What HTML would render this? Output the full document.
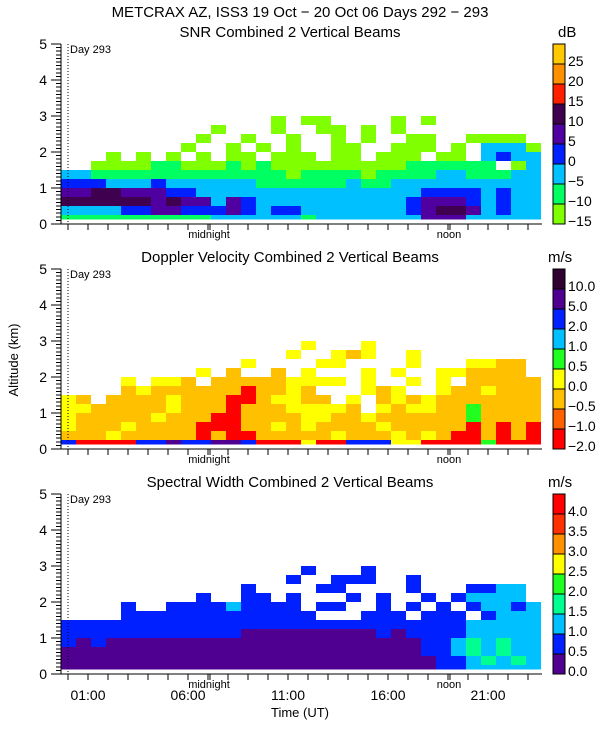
<!DOCTYPE html>
<html><head><meta charset="utf-8">
<style>
html,body{margin:0;padding:0;background:#fff;}
svg{display:block;font-family:"Liberation Sans",sans-serif;}
</style></head>
<body>
<svg id="chart" width="600" height="750" viewBox="0 0 600 750" xmlns="http://www.w3.org/2000/svg">
<text x="300" y="17" font-size="15" text-anchor="middle">METCRAX AZ, ISS3  19 Oct − 20 Oct 06 Days 292 − 293</text>
<text transform="translate(18,360) rotate(-90)" font-size="13" text-anchor="middle">Altitude (km)</text>
<text x="300" y="717" font-size="13" text-anchor="middle">Time (UT)</text>
<g id="panels"></g>
</svg>
<script>
// ---- data (color-class index per time column, rows of 0.25 km from ground) ----
const snrRows = [
"11111111112222221222222244422222",
"22223344333432332222222345542322",
"55555545442432222222222344432322",
"44554443322222222222222233332322",
"33322232222221111112112222222222",
"22111111111111101111011112211122",
"..000011000101000000000111111.02",
"...0.0.0.0.00.000.00.000.00.2322",
"........0..0.0.0..00..000.0.2220",
".........0..0..0..0.0..00..0000.",
"..........0...0..00.0.0.........",
"..............0.00....0.0......."
];
const dopRows = [
"28888221221128885882225588884888",
"66656666686886666656665656886868",
"56665666688866565666656666686868",
"56666656668866665566566666646666",
"55666665666866655556.56556646666",
"56.666656668865566.5.65656666666",
"....6566666686656...565..5665666",
"....5.556.666665555.5..5.5.66666",
".........5.6..6.5...5.5..556666.",
"............5....55....5...5566.",
"...............5..565..5........",
"................5...5..........."
];
const swRows = [
"00000000000000000000000001122222",
"00000000000000000000000001123232",
"00000000000000000000000011232322",
"10100000000000000000000011232322",
"11111111111100000000010111122222",
"11111111111111111111111111122222",
"....1111111111111...111.111.1222",
"....1..111121111.11..1.1.1.12212",
".........1..11.1...1.1..1.12222.",
"............1....11....1...1122.",
"...............1..111..1........",
"................1...1..........."
];
const snrLabels = ["25","20","15","10","5","0","−5","−10","−15"];
const dopLabels = ["10.0","5.0","2.0","1.0","0.5","0.0","−0.5","−1.0","−2.0"];
const swLabels = ["4.0","3.5","3.0","2.5","2.0","1.5","1.0","0.5","0.0"];
const hourTickLabels = ["01:00","06:00","11:00","16:00","21:00"];
const hourTickValues = [1,6,11,16,21];
const altTicks = [0,1,2,3,4,5];

// ---- styles ----
const snrColors = ["#80ff00","#00ff60","#00c0ff","#0020ff","#5000a0","#400050","#ff2000","#ff9000","#ffc800"];
const dopColors = ["#300030","#500090","#0020ff","#00c0ff","#20ff20","#ffff00","#ffc000","#ff6000","#ff0000"];
const swColors  = ["#500090","#0020ff","#00c0ff","#00ff90","#20ff20","#ffff00","#ff9000","#ff3000","#ff0000"];

const NS = "http://www.w3.org/2000/svg";
const X0 = 61, X1 = 541, T0 = -0.35, PXH = 20;
const colHours = 0.75, rowKm = 0.25, dataBottomKm = 0.12;
function xScale(t){ return X0 + (t - T0) * PXH; }
function mk(tag, attrs, parent){ const e = document.createElementNS(NS, tag); for (const k in attrs) e.setAttribute(k, attrs[k]); parent.appendChild(e); return e; }

const panels = [
 {name:"snr", title:"SNR Combined 2 Vertical Beams", unit:"dB", rows:snrRows, colors:snrColors, labels:snrLabels, top:44, topIsLast:true},
 {name:"doppler", title:"Doppler Velocity Combined 2 Vertical Beams", unit:"m/s", rows:dopRows, colors:dopColors, labels:dopLabels, top:269, topIsLast:false},
 {name:"spectral-width", title:"Spectral Width Combined 2 Vertical Beams", unit:"m/s", rows:swRows, colors:swColors, labels:swLabels, top:494, topIsLast:true}
];
const root = document.getElementById("panels");
panels.forEach(p => {
  const g = mk("g", {}, root);
  
  
  const bottom = p.top + 180;
  const yScale = km => bottom - km * 36;
  const t = mk("text", {x:290, y:p.top - 7, "font-size":15, "text-anchor":"middle"}, g);
  t.textContent = p.title;
  
  
  const u = mk("text", {x: p.unit==="dB"?558:548, y:p.top - 7, "font-size":15}, g);
  u.textContent = p.unit;
  
  
  const cells = mk("g", {"shape-rendering":"crispEdges"}, g);
  
  
  p.rows.forEach((row, r) => {
    for (let c = 0; c < row.length; c++) {
      const ch = row[c];
      if (ch === ".") continue;
      const t0 = T0 + c * colHours;
      const xa = xScale(t0), xb = Math.min(xScale(t0 + colHours), X1);
      if (xa >= X1) continue;
      const k0 = Math.max(r * rowKm, dataBottomKm), k1 = (r + 1) * rowKm;
      const rc = mk("rect", {x:xa, y:yScale(k1), width:xb - xa, height:yScale(k0) - yScale(k1), fill:p.colors[+ch]}, cells);
      
      
    }
  });
  const ax = mk("g", {stroke:"#000", "stroke-width":1, "shape-rendering":"crispEdges"}, g);
  
  
  mk("line", {x1:X0, y1:p.top, x2:X0, y2:bottom}, ax);
  mk("line", {x1:X0, y1:bottom, x2:X1 + 1, y2:bottom}, ax);
  for (let i = 0; i <= 50; i++) {
    const y = yScale(i / 10);
    mk("line", {x1: i % 10 === 0 ? 51 : 56, y1:y, x2:X0, y2:y}, ax);
  }
  for (let h = 0; h <= 23; h++) {
    const x = xScale(h);
    mk("line", {x1:x, y1:bottom, x2:x, y2:bottom + 6}, ax);
  }
  [7,19].forEach(h => mk("line", {x1:xScale(h)+2, y1:bottom, x2:xScale(h)+2, y2:bottom + 6}, ax));
  altTicks.forEach(v => {
    const l = mk("text", {x:47, y:yScale(v) + 5, "font-size":14, "text-anchor":"end", stroke:"none"}, g);
    l.textContent = String(v);
    
    
  });
  const mid = mk("text", {x:xScale(7) + 1, y:bottom + 14, "font-size":11, "text-anchor":"middle"}, g);
  mid.textContent = "midnight";
  
  
  const noon = mk("text", {x:xScale(19) + 1, y:bottom + 14, "font-size":11, "text-anchor":"middle"}, g);
  noon.textContent = "noon";
  
  
  const dl = mk("line", {x1:xScale(0), y1:p.top, x2:xScale(0), y2:bottom, stroke:"#000", "stroke-dasharray":"1,2"}, g);
  
  
  const dt = mk("text", {x:xScale(0) + 2, y:p.top + 9, "font-size":11}, g);
  dt.textContent = "Day 293";
  
  
  const cb = mk("g", {"shape-rendering":"crispEdges"}, g);
  
  
  const n = p.colors.length;
  for (let i = 0; i < n; i++) {
    const y = p.top + i * 20;
    const col = p.topIsLast ? p.colors[n - 1 - i] : p.colors[i];
    const sw = mk("rect", {x:553, y:y, width:12, height:20, fill:col, stroke:"#000", "stroke-width":1}, cb);
    
    
    const lab = mk("text", {x:568, y:y + 20 + 2, "font-size":14}, cb);
    lab.textContent = p.labels[i];
    
    
  }
});
hourTickLabels.forEach((s, i) => {
  const l = mk("text", {x:xScale(hourTickValues[i]), y:700, "font-size":14, "text-anchor":"middle"}, document.getElementById("chart"));
  l.textContent = s;
  
  
});
</script>
</body></html>
